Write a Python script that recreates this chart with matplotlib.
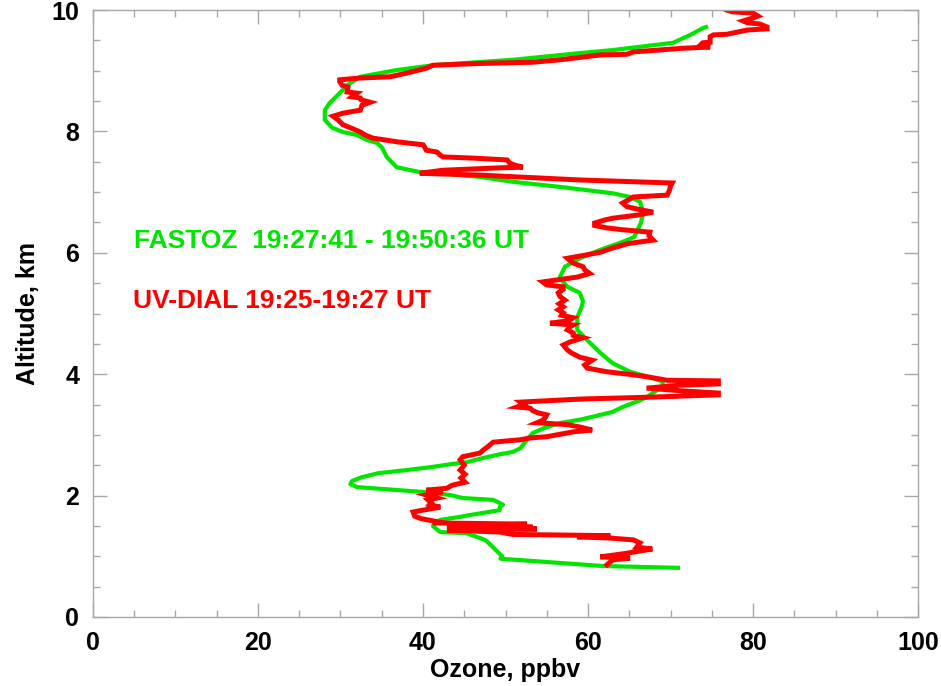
import matplotlib
matplotlib.use('Agg')
import matplotlib.pyplot as plt
from matplotlib.ticker import MultipleLocator

# FASTOZ profile (altitude km, ozone ppbv)
fastoz_alt = [0.81, 0.84, 0.96, 1.00, 1.24, 1.27, 1.38, 1.40, 1.43, 1.50, 1.57, 1.60, 1.65, 1.68,
              1.76, 1.81, 1.85, 1.93, 1.96, 2.01, 2.06, 2.10, 2.14, 2.19, 2.24, 2.30, 2.37, 2.42,
              2.47, 2.52, 2.55, 2.62, 2.68, 2.72, 2.78, 2.92, 3.03, 3.13, 3.20, 3.25, 3.30, 3.38,
              3.46, 3.57, 3.62, 3.74, 3.82, 3.88, 3.95, 4.04, 4.18, 4.35, 4.56, 4.73, 4.94, 5.10,
              5.20, 5.34, 5.44, 5.55, 5.60, 5.77, 5.91, 6.05, 6.18, 6.26, 6.49, 6.66, 6.84, 6.92,
              6.98, 7.08, 7.17, 7.25, 7.31, 7.33, 7.41, 7.58, 7.74, 7.81, 7.86, 7.94, 7.99, 8.06,
              8.19, 8.35, 8.47, 8.63, 8.76, 8.90, 9.01, 9.09, 9.18, 9.29, 9.34, 9.46, 9.59, 9.70,
              9.72]
fastoz_o3 = [70.9, 61.8, 49.4, 49.6, 47.8, 47.5, 45.3, 42.1, 41.8, 41.2, 41.7, 42.1, 44.5, 45.7,
             49.3, 49.3, 49.7, 48.5, 44.8, 43.3, 40.0, 36.0, 32.0, 31.2, 31.4, 32.5, 34.6, 38.0,
             41.0, 43.5, 45.3, 47.3, 49.3, 50.9, 51.8, 52.6, 53.3, 55.0, 56.8, 59.0, 60.6, 63.0,
             64.2, 66.3, 67.1, 68.4, 69.1, 69.0, 67.5, 65.1, 63.0, 61.5, 59.9, 58.7, 58.7, 59.2,
             59.4, 59.0, 57.5, 56.8, 56.6, 57.2, 59.0, 61.5, 64.2, 65.6, 66.4, 66.7, 66.3, 65.1,
             63.0, 57.0, 50.9, 46.9, 42.1, 39.6, 36.8, 35.6, 35.0, 34.4, 33.2, 32.0, 30.3, 29.0,
             28.1, 28.1, 28.7, 29.9, 30.8, 32.4, 36.8, 41.2, 50.9, 59.0, 63.0, 70.3, 72.4, 73.9,
             74.3]

# UV-DIAL profile (altitude km, ozone ppbv)
dial_alt = [0.86, 0.94, 0.97, 0.99, 1.05, 1.07, 1.12, 1.15, 1.22, 1.27, 1.30, 1.32, 1.34, 1.36,
            1.40, 1.43, 1.45, 1.47, 1.48, 1.50, 1.53, 1.55, 1.57, 1.62, 1.66, 1.73, 1.76, 1.81,
            1.85, 1.88, 1.93, 1.96, 2.01, 2.06, 2.09, 2.12, 2.17, 2.22, 2.29, 2.35, 2.42, 2.50,
            2.59, 2.64, 2.70, 2.75, 2.80, 2.88, 2.92, 2.95, 2.97, 3.00, 3.05, 3.08, 3.13, 3.17,
            3.20, 3.24, 3.28, 3.33, 3.36, 3.40, 3.44, 3.46, 3.50, 3.54, 3.59, 3.62, 3.66, 3.69,
            3.72, 3.77, 3.82, 3.84, 3.89, 3.90, 3.95, 3.99, 4.04, 4.10, 4.15, 4.23, 4.28, 4.35,
            4.40, 4.48, 4.53, 4.60, 4.64, 4.68, 4.73, 4.78, 4.81, 4.84, 4.88, 4.93, 4.97, 5.01,
            5.06, 5.11, 5.16, 5.22, 5.28, 5.34, 5.40, 5.44, 5.47, 5.52, 5.56, 5.60, 5.66, 5.72,
            5.77, 5.83, 5.91, 5.97, 6.01, 6.08, 6.15, 6.21, 6.28, 6.34, 6.38, 6.41, 6.45, 6.49,
            6.54, 6.57, 6.62, 6.67, 6.72, 6.76, 6.82, 6.88, 6.92, 6.95, 7.04, 7.10, 7.15, 7.20,
            7.28, 7.31, 7.36, 7.40, 7.41, 7.45, 7.48, 7.53, 7.56, 7.58, 7.62, 7.66, 7.69, 7.74,
            7.78, 7.83, 7.89, 7.94, 7.99, 8.06, 8.11, 8.19, 8.25, 8.30, 8.35, 8.43, 8.48, 8.52,
            8.55, 8.57, 8.63, 8.65, 8.73, 8.76, 8.82, 8.85, 8.88, 8.90, 8.96, 9.04, 9.09, 9.12,
            9.14, 9.18, 9.22, 9.26, 9.27, 9.31, 9.37, 9.39, 9.42, 9.46, 9.47, 9.56, 9.59, 9.60,
            9.64, 9.67, 9.69, 9.72, 9.77, 9.79, 9.82, 9.87, 9.90, 9.95, 9.97, 10.0]
dial_o3 = [62.3, 63.0, 65.1, 61.5, 64.7, 65.5, 67.8, 65.9, 66.3, 65.5, 62.7, 58.7, 62.7, 50.9,
           49.3, 42.9, 53.8, 47.8, 53.3, 42.9, 52.6, 41.2, 41.7, 39.8, 39.0, 38.8, 40.0, 42.1,
           40.8, 41.0, 40.6, 41.7, 40.4, 42.4, 40.4, 42.9, 43.5, 45.1, 44.6, 45.1, 44.5, 45.0,
           44.5, 44.8, 46.9, 47.3, 47.8, 48.5, 51.8, 53.0, 55.0, 56.2, 58.2, 60.5, 59.0, 57.5,
           53.8, 54.5, 54.8, 55.0, 54.0, 53.3, 53.0, 51.4, 52.2, 51.8, 59.0, 67.1, 75.8, 75.8,
           72.0, 67.1, 71.2, 75.8, 75.8, 69.6, 67.5, 65.5, 62.3, 59.9, 59.6, 60.5, 59.0, 58.0,
           57.5, 57.0, 57.8, 59.4, 58.2, 58.2, 57.5, 57.8, 58.2, 55.4, 57.6, 58.2, 56.8, 57.0,
           56.4, 57.0, 56.5, 57.2, 56.6, 56.4, 57.0, 57.0, 55.0, 54.5, 56.6, 58.7, 60.2, 59.6,
           59.4, 58.2, 57.5, 60.0, 61.5, 63.0, 64.8, 67.9, 67.4, 67.5, 64.2, 62.3, 60.8, 60.8,
           62.0, 63.0, 65.9, 67.9, 66.0, 64.7, 64.2, 65.0, 65.5, 69.6, 69.9, 70.0, 70.2, 59.0,
           46.9, 39.6, 42.4, 49.3, 52.1, 51.0, 50.5, 50.2, 46.1, 42.4, 42.0, 41.7, 40.4, 40.2,
           40.0, 36.8, 33.9, 33.0, 32.4, 31.2, 30.3, 29.7, 29.1, 30.3, 32.4, 32.6, 33.6, 32.5,
           32.4, 31.4, 32.0, 30.8, 30.9, 30.2, 29.9, 29.9, 32.4, 36.0, 38.0, 40.4, 41.2, 47.0,
           53.3, 56.6, 59.0, 61.5, 64.7, 65.5, 71.5, 74.8, 73.6, 73.9, 74.8, 74.8, 75.2, 76.8,
           78.2, 79.3, 81.7, 81.7, 80.8, 79.3, 78.8, 80.0, 80.6, 80.0, 77.5, 76.8]

fastoz_label = 'FASTOZ  19:27:41 - 19:50:36 UT'
dial_label = 'UV-DIAL 19:25-19:27 UT'

green = '#00e600'
red = '#ff0000'
frame = '#a8a8a8'

plt.rcParams['font.family'] = ['Liberation Sans', 'DejaVu Sans']
plt.rcParams['font.weight'] = 'bold'

fig = plt.figure(figsize=(9.41, 6.86), dpi=100, facecolor='white')
ax = fig.add_axes([0.0988, 0.1006, 0.8768, 0.8848])

ax.plot(fastoz_o3, fastoz_alt, color=green, lw=3.0, solid_joinstyle='round')
ax.plot(dial_o3, dial_alt, color=red, lw=3.6, solid_joinstyle='miter')

ax.text(5.0, 6.2, fastoz_label, color=green, fontsize=19, fontweight='bold', va='center')
ax.text(4.8, 5.2, dial_label, color=red, fontsize=19, fontweight='bold', va='center')

ax.set_xlim(0, 100)
ax.set_ylim(0, 10)
ax.xaxis.set_major_locator(MultipleLocator(20))
ax.xaxis.set_minor_locator(MultipleLocator(5))
ax.yaxis.set_major_locator(MultipleLocator(2))
ax.yaxis.set_minor_locator(MultipleLocator(0.5))
ax.tick_params(which='both', direction='in', top=True, right=True, color=frame, width=1)
ax.tick_params(which='major', length=10, labelsize=18, pad=10)
ax.tick_params(which='minor', length=5)
for lab in ax.get_xticklabels() + ax.get_yticklabels():
    lab.set_fontweight('bold')
for sp in ax.spines.values():
    sp.set_color(frame)
    sp.set_linewidth(1)

ax.set_xlabel('Ozone, ppbv', fontsize=18, fontweight='bold', labelpad=2)
ax.set_ylabel('Altitude, km', fontsize=18, fontweight='bold', labelpad=8)

fig.savefig('out.png', dpi=100, facecolor='white')
plt.close(fig)
